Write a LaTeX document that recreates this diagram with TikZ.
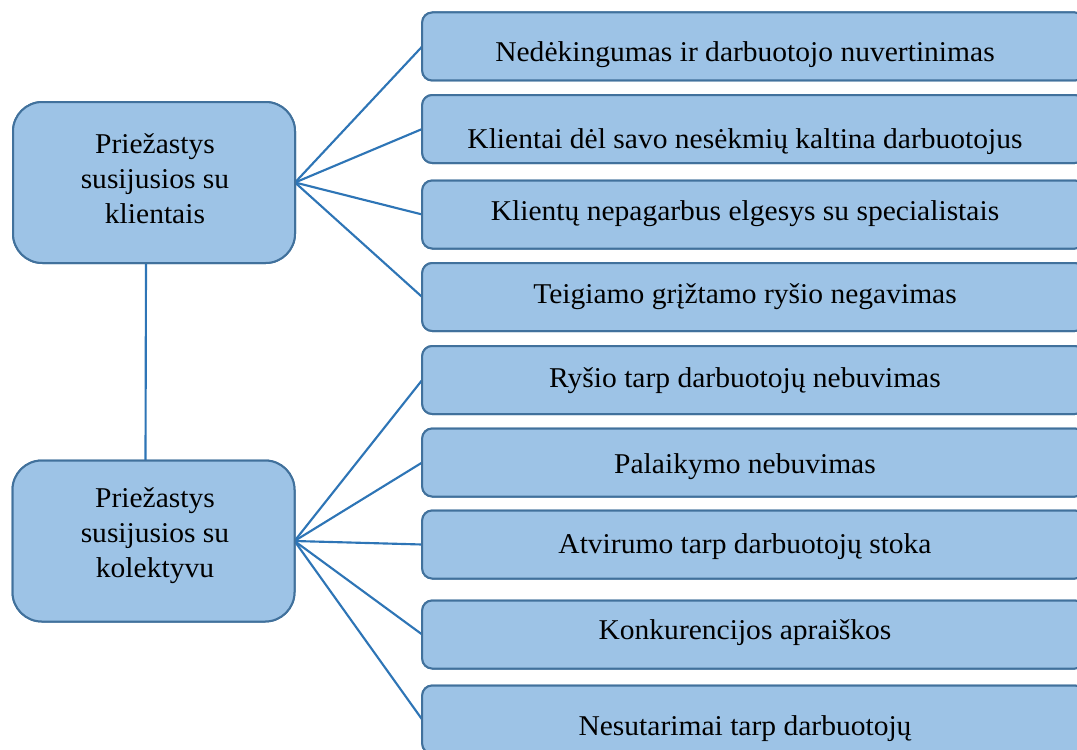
\documentclass[tikz,border=0pt]{standalone}
\usepackage{fontspec}
\setmainfont{Liberation Serif}[FakeStretch=1.03]
\definecolor{boxfill}{HTML}{9DC3E6}
\definecolor{boxline}{HTML}{41719C}
\definecolor{connline}{HTML}{2E75B6}
\begin{document}
\begin{tikzpicture}[x=0.75pt,y=-0.75pt,
  every node/.style={inner sep=0pt, outer sep=0pt},
  txt/.style={font=\fontsize{21.5}{26.25}\selectfont, text=black},
  cause/.style={draw=boxline, fill=boxfill, line width=1.5pt,
    rounded corners=22pt, minimum width=211.5pt, minimum height=120.75pt},
  item/.style={draw=boxline, fill=boxfill, line width=1.5pt,
    rounded corners=7.5pt, minimum width=497pt, minimum height=51pt},
  conn/.style={draw=connline, line width=1.6pt}]
\useasboundingbox (0,0) rectangle (1077,749);
\begin{scope}
\clip (0,0) rectangle (1077,749);

% group boxes and item boxes (placed first so the links can refer to them)
\node[cause] (c1) at (154,182.5) {};
\node[cause] (c2) at (153.5,541) {};
\foreach \n/\y in {1/46.5, 2/129, 3/214.5, 4/297, 5/380, 6/462.5, 7/544.5, 8/634.5, 9/719.5}
  \node[item] (b\n) at (753.5,\y) {};

% links between the groups and their items
\foreach \n in {1,2,3,4}
  \draw[conn] (c1.east) -- (b\n.west);
\foreach \n in {5,6,7,8,9}
  \draw[conn] (c2.east) -- (b\n.west);
\draw[conn] ([xshift=-6pt]c1.south) -- ([xshift=-6pt]c2.north);

% redraw boxes above the links
\node[cause] at (c1) {};
\node[cause] at (c2) {};
\foreach \n in {1,...,9}
  \node[item] at (b\n) {};

% group labels
\node[txt, align=center] (tc1) at (155,178.5) {Priežastys\\susijusios su\\klientais};
\node[txt, align=center] (tc2) at (155,536) {Priežastys\\susijusios su\\kolektyvu};

% item labels, set on their baselines
\node[txt, anchor=base] (t1) at (745,62) {Nedėkingumas ir darbuotojo nuvertinimas};
\node[txt, anchor=base] (t2) at (745,148) {Klientai dėl savo nesėkmių kaltina darbuotojus};
\node[txt, anchor=base] (t3) at (745,220) {Klientų nepagarbus elgesys su specialistais};
\node[txt, anchor=base] (t4) at (745,303) {Teigiamo grįžtamo ryšio negavimas};
\node[txt, anchor=base] (t5) at (745,387) {Ryšio tarp darbuotojų nebuvimas};
\node[txt, anchor=base] (t6) at (745,473) {Palaikymo nebuvimas};
\node[txt, anchor=base] (t7) at (745,553) {Atvirumo tarp darbuotojų stoka};
\node[txt, anchor=base] (t8) at (745,639) {Konkurencijos apraiškos};
\node[txt, anchor=base] (t9) at (745,735) {Nesutarimai tarp darbuotojų};
\end{scope}
\end{tikzpicture}
\end{document}
